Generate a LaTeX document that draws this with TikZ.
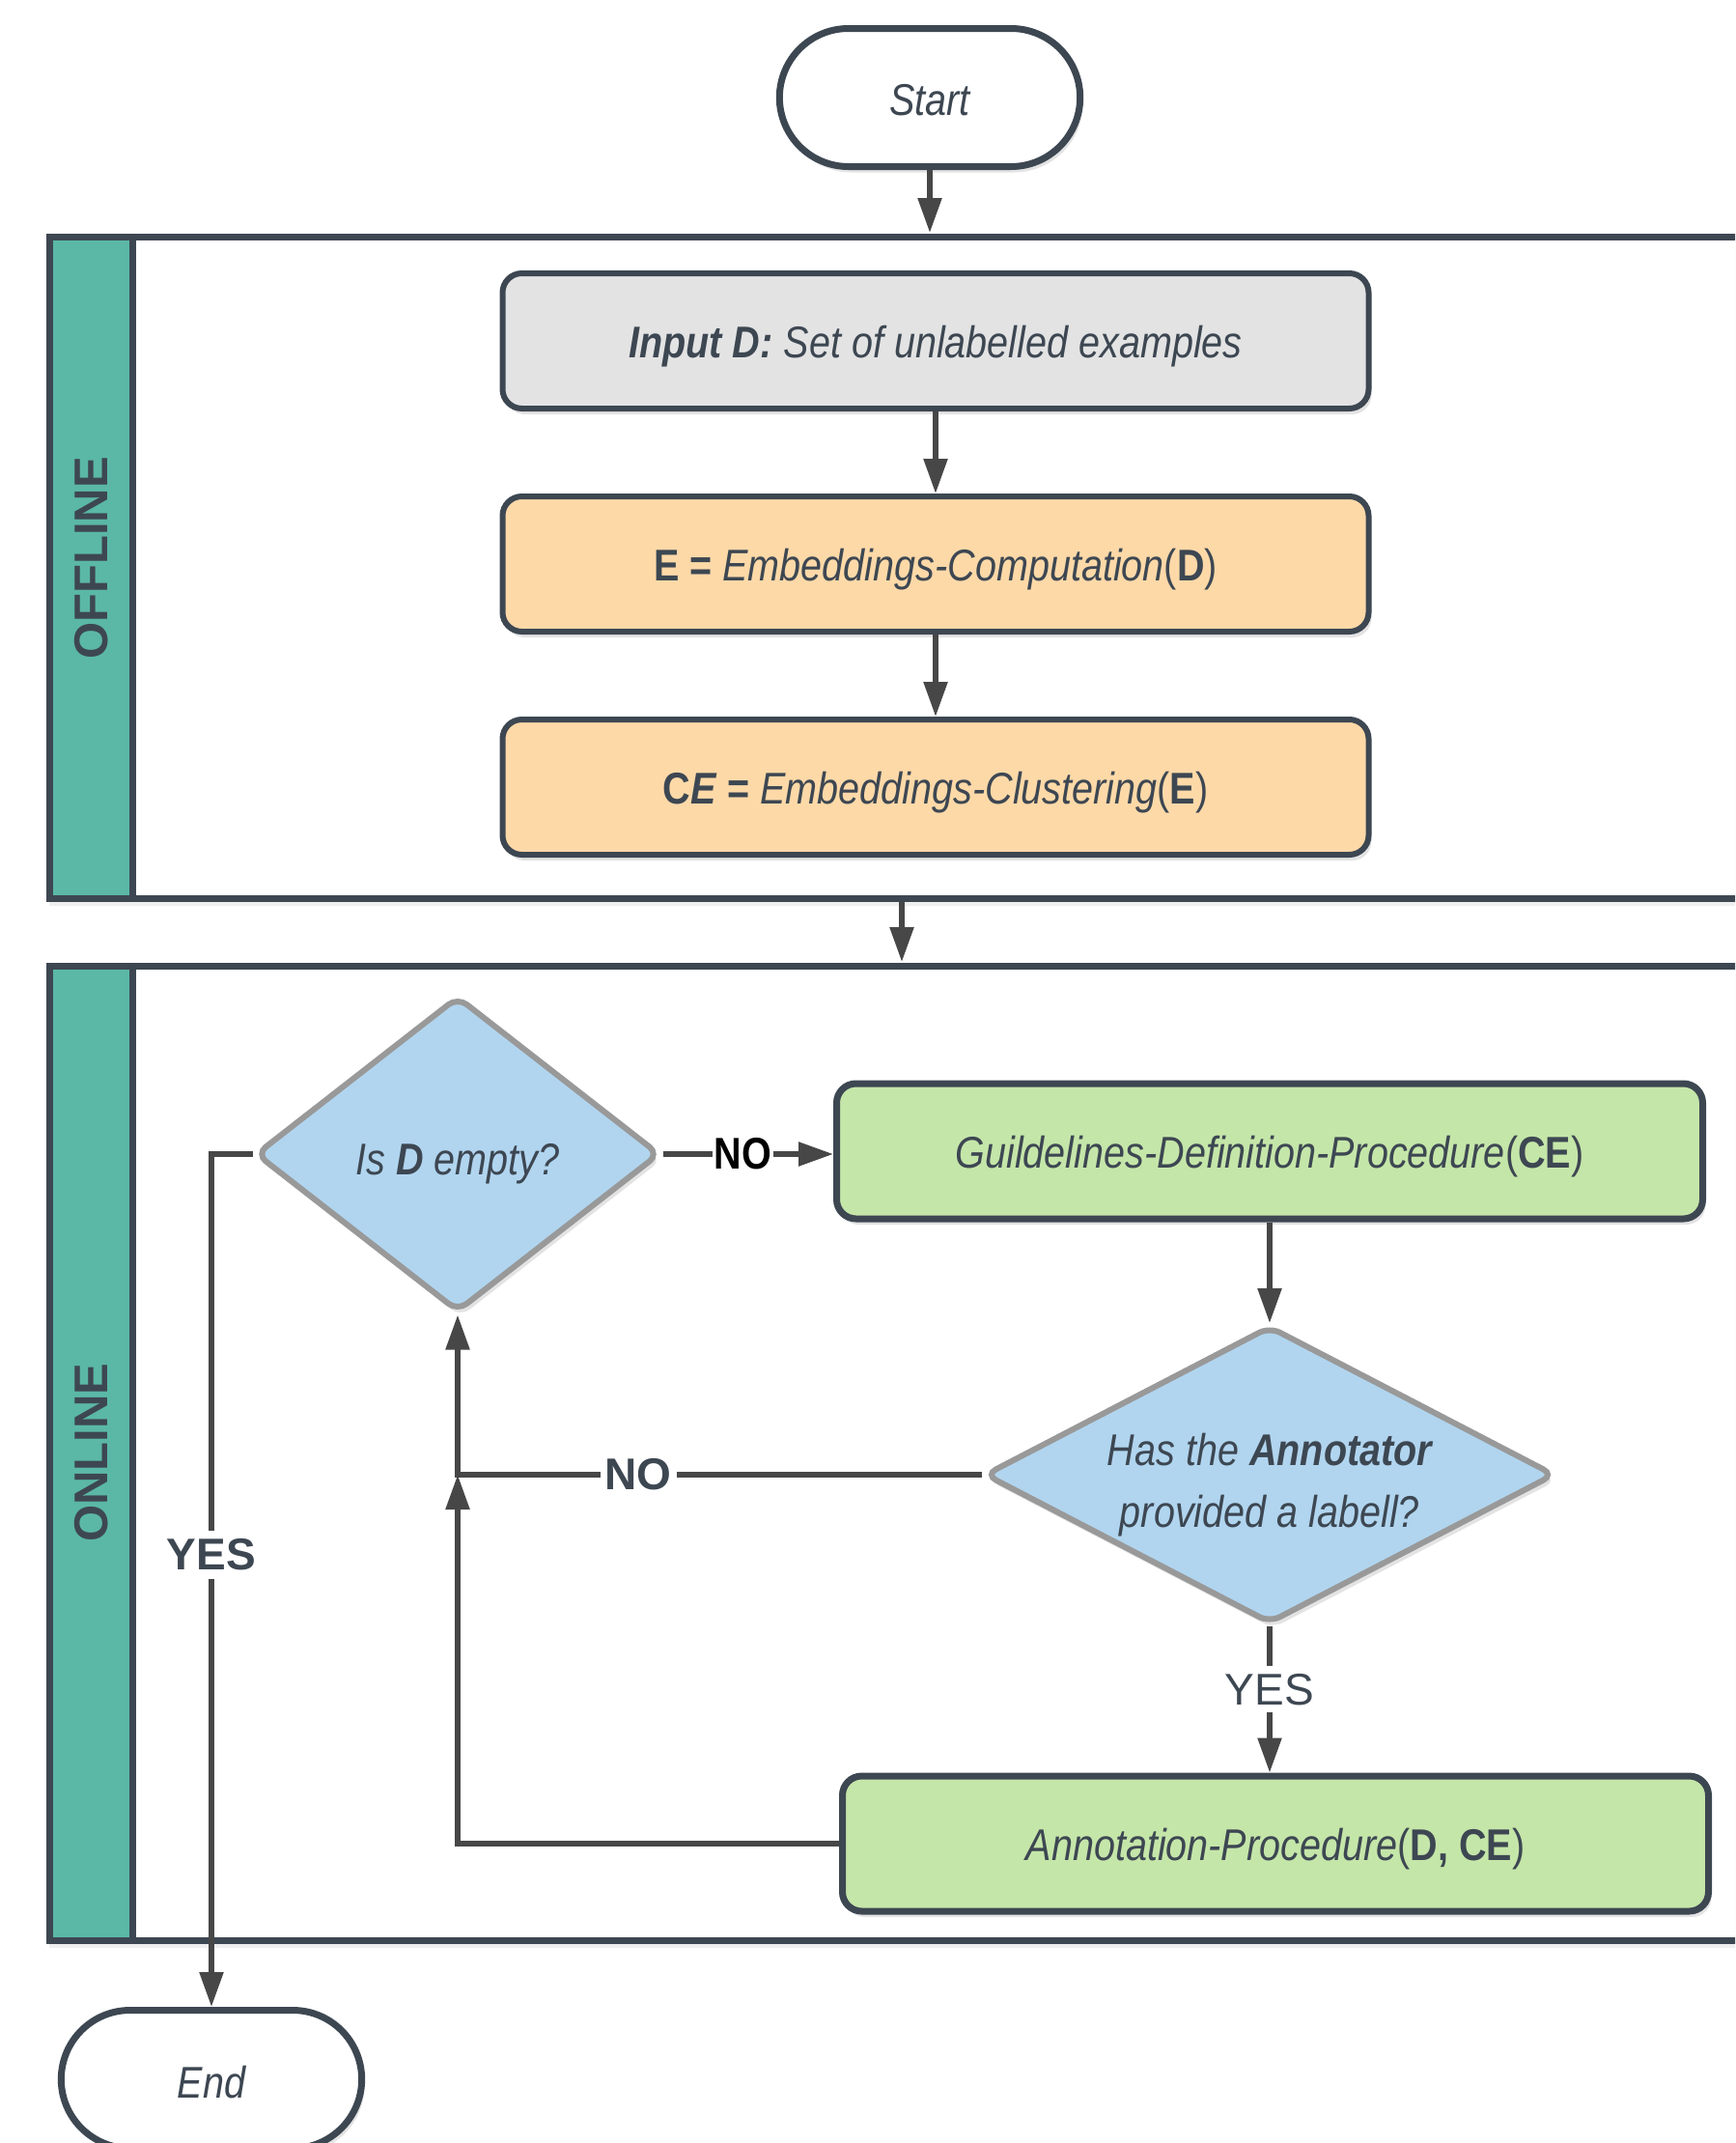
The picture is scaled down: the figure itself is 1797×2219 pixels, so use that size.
\documentclass[tikz,border=0pt]{standalone}
\usepackage{fontspec}
\setmainfont{Liberation Sans}
\newfontfamily\cond[FakeStretch=0.86]{Liberation Sans}
\usetikzlibrary{shapes.geometric,shapes.misc,arrows.meta,shadows,calc}
\definecolor{ink}{HTML}{3D4752}
\definecolor{wire}{HTML}{474747}
\definecolor{bandc}{HTML}{5BB8A6}
\definecolor{greyF}{HTML}{E3E3E3}
\definecolor{orangeF}{HTML}{FED9A8}
\definecolor{greenF}{HTML}{C5E6A9}
\definecolor{blueF}{HTML}{B1D5EF}
\definecolor{diagray}{HTML}{999999}
\newcommand\lowered[2]{\raisebox{-#1}[\height][\depth]{#2}}
\begin{document}
\begin{tikzpicture}[x=1pt,y=-1pt,
  every node/.style={text=ink},
  softshadow/.style={drop shadow={shadow xshift=3pt,shadow yshift=-6pt,opacity=.22}},
  proc/.style={draw=ink,line width=6pt,rounded corners=20pt,minimum width=897pt,minimum height=140pt,inner sep=0pt,font=\cond\fontsize{46}{54}\selectfont,softshadow},
  term/.style={rounded rectangle,draw=ink,fill=white,line width=7pt,minimum width=318pt,minimum height=143pt,font=\cond\fontsize{46}{54}\selectfont\itshape,softshadow},
  decide/.style={diamond,draw=diagray,fill=blueF,line width=6pt,rounded corners=12pt,inner sep=0pt,font=\cond\fontsize{46}{64}\selectfont\itshape,softshadow},
  arr/.style={draw=wire,line width=5.5pt,-{Triangle[length=36pt,width=24pt]}},
  lab/.style={fill=white,inner sep=5pt},
  frame/.style={draw=ink,line width=7pt,fill=white,drop shadow={shadow xshift=0pt,shadow yshift=-8pt,opacity=.12}},
  band/.style={draw=ink,line width=7pt,fill=bandc},
  lane/.style={font=\fontsize{49}{49}\selectfont\bfseries,rotate=90,text=ink}
]
\useasboundingbox (0,0) rectangle (1797,2219);
\begin{scope}
\clip (0,0) rectangle (1797,2219);
\fill[white] (0,0) rectangle (1797,2219);

% swimlanes
\path[frame] (51,245) rectangle (1840,930);
\path[band] (51,245) rectangle (137,930);
\node[lane] (offl) at (95,578) {OFFLINE};
\path[frame] (51,1000) rectangle (1840,2009);
\path[band] (51,1000) rectangle (137,2009);
\node[lane] (onl) at (95,1504) {ONLINE};

% nodes
\node[term] (start) at (963,101) {\lowered{3pt}{Start}};
\node[proc,fill=greyF] (inp) at (969,353) {\lowered{6pt}{{\bfseries\itshape Input D:} \textit{Set of unlabelled examples}}};
\node[proc,fill=orangeF] (emb) at (969,584) {\lowered{6pt}{{\bfseries E =} \textit{Embeddings-Computation}(\textbf{D})}};
\node[proc,fill=orangeF] (clu) at (969,815) {\lowered{6pt}{{\bfseries C\textit{E} =} \textit{Embeddings-Clustering}(\textbf{E})}};

\node[decide,minimum width=419pt,minimum height=327pt] (d1) at (474,1195) {\lowered{10pt}{Is \textbf{D} empty?}};
\node[proc,fill=greenF,line width=7pt] (gd) at (1315,1192) {\lowered{6pt}{\textit{Guildelines-Definition-Procedure}(\textbf{CE})}};
\node[decide,minimum width=591pt,minimum height=308pt,aspect=1.9] (d2) at (1315,1527) {\lowered{10pt}{\begin{tabular}{@{}c@{}}Has the \textbf{Annotator}\\provided a labell?\end{tabular}}};
\node[proc,fill=greenF,line width=7pt] (ann) at (1321,1909) {\lowered{6pt}{\textit{Annotation-Procedure}(\textbf{D, CE})}};
\node[term] (end) at (219,2153) {\lowered{3pt}{End}};

% coordinates
\coordinate (f1top) at (963,241);
\coordinate (f1bot) at (934,934);
\coordinate (f2top) at (934,996);
\coordinate (j) at (d1.south |- d2.west);
\coordinate (ycorner) at (end.north |- d1.west);

% connectors
\draw[arr] (start.south) -- (f1top);
\draw[arr] (inp.south) -- (emb.north);
\draw[arr] (emb.south) -- (clu.north);
\draw[arr] (f1bot) -- (f2top);
\draw[arr] (d1.east) -- node[pos=0.47,fill=white,inner sep=2pt,text=black,font=\cond\fontsize{46}{46}\selectfont\bfseries] (nolab1) {NO} (d1.east -| gd.west);
\draw[arr] (gd.south) -- (gd.south |- d2.north);
\draw[arr] (d2.west) -- node[pos=0.655,lab,font=\fontsize{46}{46}\selectfont\bfseries] (nolab2) {NO} (j) -- (d1.south);
\draw[arr] (ann.west) -| (j);
\draw[arr] (d1.west) -- (ycorner) -- node[pos=0.47,lab,inner sep=9pt,font=\fontsize{46}{46}\selectfont\bfseries] (yeslab1) {YES} (end.north);
\draw[arr] (d2.south) -- node[pos=0.43,lab,inner sep=8pt,font=\fontsize{46}{46}\selectfont] (yeslab2) {YES} (d2.south |- ann.north);
\end{scope}
\end{tikzpicture}
\end{document}
